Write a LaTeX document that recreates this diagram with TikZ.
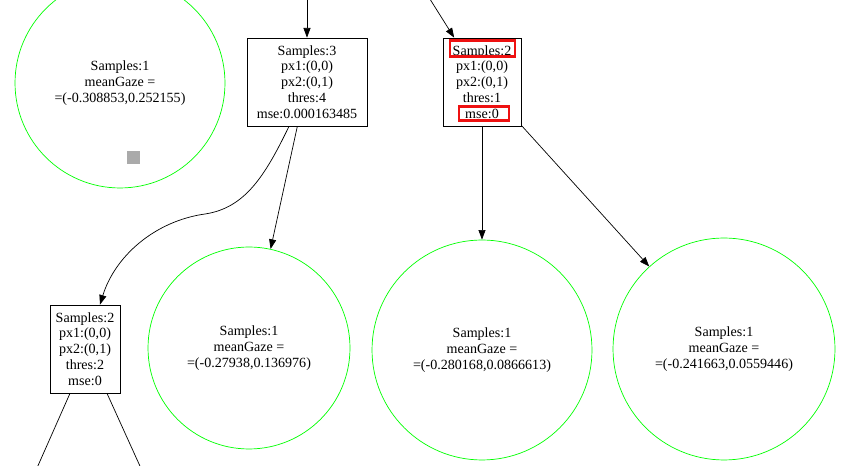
\documentclass[tikz,border=0pt]{standalone}
\usepackage{fontspec}
\setmainfont{Liberation Serif}
\usepackage{tikz}
\usetikzlibrary{arrows.meta,calc}

\definecolor{leafgreen}{HTML}{00FF00}
\definecolor{sqgray}{HTML}{AAAAAA}
\definecolor{hlred}{HTML}{EE1111}

\tikzset{
	arr/.style={-{Triangle[length=5.5pt,width=4pt]},thin},
	split/.style={draw,thin,rectangle,align=center,inner sep=0pt,minimum height=1.76cm,font=\fontsize{8}{9}\selectfont},
	leaf/.style={draw=leafgreen,thin,circle,align=center,inner sep=0pt,font=\fontsize{8}{9}\selectfont},
	hl/.style={draw=hlred,line width=1.5pt}
}

\begin{document}
\begin{tikzpicture}[x=0.02cm,y=0.02cm]
				\clip (0,0) rectangle (855,466);
				\fill [white] (0,0) rectangle (855,466);
				% upper row
				\node[leaf,minimum size=4.2cm] (g1) at (120,383) {Samples:1\\meanGaze =\\=(-0.308853,0.252155)};
				\fill [sqgray] (126.5,301.5) rectangle (139.5,314.5);
				\node[split,minimum width=2.4cm] (a) at (307,384) {Samples:3\\px1:(0,0)\\px2:(0,1)\\thres:4\\mse:0.000163485};
				\node[split,minimum width=1.56cm] (b) at (482,384) {Samples:2\\px1:(0,0)\\px2:(0,1)\\thres:1\\mse:0};
				\draw[hl] ($(b.north)+(-32,-3)$) rectangle ($(b.north)+(33,-19)$);
				\draw[hl] ($(b.south)+(-23,20)$) rectangle ($(b.south)+(27,6)$);
				\coordinate (ain) at (307,470);
				\coordinate (bin) at (428,470);
				% lower row
				\node[split,minimum width=1.4cm] (c) at (85,117) {Samples:2\\px1:(0,0)\\px2:(0,1)\\thres:2\\mse:0};
				\node[leaf,minimum size=4.04cm] (d) at (249,118) {Samples:1\\meanGaze =\\=(-0.27938,0.136976)};
				\node[leaf,minimum size=4.4cm] (e) at (482,116) {Samples:1\\meanGaze =\\=(-0.280168,0.0866613)};
				\node[leaf,minimum size=4.44cm] (f) at (724,117) {Samples:1\\meanGaze =\\=(-0.241663,0.0559446)};
				\coordinate (cl) at (29,-20);
				\coordinate (cr) at (149,-20);
				% edges
				\draw[arr] (ain) -- (a);
				\draw[arr] (bin) -- (b);
				\draw[arr] ([xshift=-0.36cm]a.south) .. controls (265,290) and (245,258) .. (205,252)
					.. controls (155,245) and (115,210) .. ([xshift=0.3cm]c.north);
				\draw[arr] (a) -- (d);
				\draw[arr] (b) -- (e);
				\draw[arr] (b) -- (f);
				\draw ([xshift=-0.3cm]c.south) -- (cl);
				\draw ([xshift=0.44cm]c.south) -- (cr);
\end{tikzpicture}
\end{document}
